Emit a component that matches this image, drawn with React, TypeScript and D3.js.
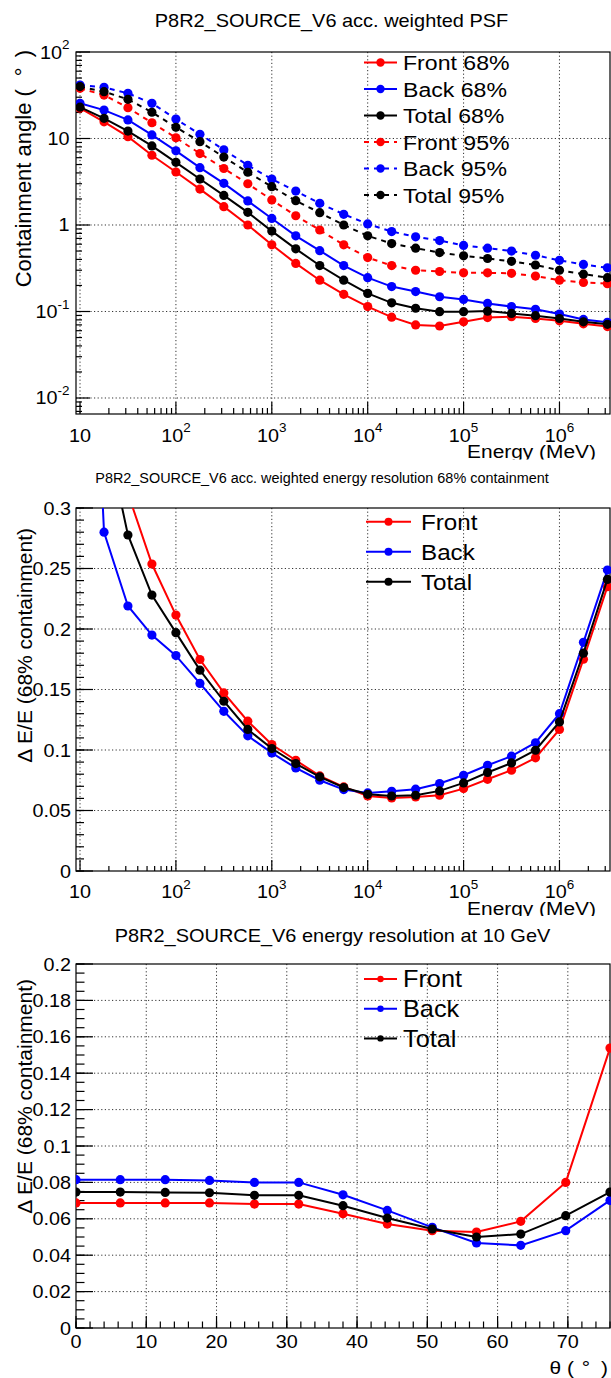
import React from 'react';
import * as d3 from 'd3';

const FONT = '"Liberation Sans", Arial, Helvetica, sans-serif';
const W = 611;
const H = 1378;

// Energies (MeV) at which PSF and energy resolution are evaluated
const ENERGY_MEV = [
  10, 17.8, 31.6, 56.2, 100, 178, 316, 562, 1000, 1778, 3162, 5623, 10000, 17783, 31623,
  56234, 100000, 177828, 316228, 562341, 1000000, 1778279, 3162278,
];

// PSF containment angles (deg)
const PSF_FRONT_68 = [22.4, 15.6, 10.5, 6.4, 4.1, 2.6, 1.63, 1.0, 0.59, 0.36, 0.23, 0.158, 0.114, 0.086, 0.07, 0.068, 0.076, 0.085, 0.087, 0.083, 0.078, 0.072, 0.067];
const PSF_BACK_68 = [25.5, 21.3, 16.4, 11.0, 7.2, 4.6, 3.03, 1.9, 1.19, 0.75, 0.505, 0.34, 0.246, 0.194, 0.17, 0.148, 0.138, 0.124, 0.114, 0.106, 0.0935, 0.081, 0.075];
const PSF_TOTAL_68 = [23, 17.1, 12.2, 8.2, 5.3, 3.4, 2.2, 1.4, 0.85, 0.53, 0.34, 0.23, 0.162, 0.126, 0.109, 0.0995, 0.0995, 0.101, 0.095, 0.0895, 0.083, 0.076, 0.071];
const PSF_FRONT_95 = [38, 31.8, 22.7, 15.2, 10.2, 6.7, 4.5, 3.0, 1.95, 1.28, 0.875, 0.59, 0.42, 0.34, 0.3, 0.29, 0.28, 0.28, 0.276, 0.257, 0.23, 0.217, 0.21];
const PSF_BACK_95 = [41.5, 39, 33.3, 25.5, 16.8, 11.2, 7.4, 4.9, 3.4, 2.47, 1.78, 1.33, 1.03, 0.84, 0.73, 0.66, 0.58, 0.54, 0.5, 0.447, 0.39, 0.35, 0.32];
const PSF_TOTAL_95 = [39.8, 34.8, 28.4, 20.1, 13.5, 9.2, 6.1, 4.07, 2.77, 1.91, 1.39, 1.0, 0.75, 0.61, 0.54, 0.48, 0.44, 0.41, 0.38, 0.345, 0.3, 0.27, 0.246];

// Energy resolution, 68% containment, versus energy
const EDISP_FRONT = [0.5, 0.4, 0.312, 0.2537, 0.2115, 0.1748, 0.1472, 0.1238, 0.1045, 0.0915, 0.0786, 0.0695, 0.062, 0.0604, 0.0612, 0.0626, 0.0681, 0.0758, 0.0833, 0.0935, 0.117, 0.175, 0.235];
const EDISP_BACK = [0.7, 0.28, 0.219, 0.195, 0.178, 0.155, 0.132, 0.1117, 0.0976, 0.0852, 0.075, 0.0673, 0.0645, 0.0659, 0.0676, 0.0723, 0.0791, 0.0874, 0.0949, 0.106, 0.13, 0.189, 0.2487];
const EDISP_TOTAL = [0.5, 0.37, 0.2777, 0.228, 0.197, 0.166, 0.1403, 0.117, 0.1012, 0.0888, 0.0778, 0.069, 0.0634, 0.062, 0.0626, 0.0662, 0.0728, 0.0814, 0.0893, 0.0998, 0.1232, 0.18, 0.241];

// Energy resolution at 10 GeV versus incidence angle
const THETA_DEG = [0, 6.3, 12.7, 19.0, 25.4, 31.7, 38.0, 44.3, 50.7, 57.0, 63.3, 69.7, 76.0];
const THETA_FRONT = [0.0687, 0.0687, 0.0687, 0.0687, 0.0681, 0.0681, 0.0628, 0.0571, 0.0535, 0.0527, 0.0586, 0.08, 0.1538];
const THETA_BACK = [0.0815, 0.0815, 0.0815, 0.0811, 0.08, 0.08, 0.0732, 0.0646, 0.0553, 0.0467, 0.0454, 0.0535, 0.0701];
const THETA_TOTAL = [0.0747, 0.0747, 0.0745, 0.0743, 0.0729, 0.0729, 0.0672, 0.0604, 0.0544, 0.05, 0.0516, 0.0617, 0.0747];

const X_DECADES = [10, 100, 1000, 10000, 100000, 1000000];
const PSF_Y_DECADES = [0.01, 0.1, 1, 10, 100];
const EDISP_Y_TICKS = [0, 0.05, 0.1, 0.15, 0.2, 0.25, 0.3];
const EDISP_Y_LABELS = ['0', '0.05', '0.1', '0.15', '0.2', '0.25', '0.3'];
const THETA_X_TICKS = [0, 10, 20, 30, 40, 50, 60, 70];
const THETA_Y_TICKS = [0, 0.02, 0.04, 0.06, 0.08, 0.1, 0.12, 0.14, 0.16, 0.18, 0.2];
const THETA_Y_LABELS = ['0', '0.02', '0.04', '0.06', '0.08', '0.1', '0.12', '0.14', '0.16', '0.18', '0.2'];

const RED = '#ff0000';
const BLUE = '#0000ff';
const BLACK = '#000000';

type Frame = { left: number; right: number; top: number; bottom: number };

const PSF_FRAME: Frame = { left: 76, right: 610, top: 52, bottom: 414 };
const EDISP_FRAME: Frame = { left: 76, right: 610, top: 508, bottom: 871 };
const THETA_FRAME: Frame = { left: 76, right: 610, top: 964, bottom: 1328 };

const SX = 1.1; // horizontal stretch of labels
const SX_TITLE = 1.05;

function logMinorTicks(lo: number, hi: number): number[] {
  const out: number[] = [];
  for (let k = -4; k <= 7; k++) {
    for (let m = 2; m <= 9; m++) {
      const v = m * Math.pow(10, k);
      if (v > lo && v < hi) out.push(v);
    }
  }
  return out;
}

function linMinorTicks(lo: number, hi: number, step: number): number[] {
  const out: number[] = [];
  const n = Math.round((hi - lo) / step);
  for (let i = 0; i <= n; i++) out.push(lo + i * step);
  return out;
}

function Txt(props: {
  x: number; y: number; size: number; anchor?: 'start' | 'middle' | 'end';
  sx?: number; children: React.ReactNode;
}) {
  const { x, y, size, anchor = 'start', sx = SX, children } = props;
  return (
    <text
      transform={`translate(${x},${y}) scale(${sx},1)`}
      fontSize={size}
      fontFamily={FONT}
      textAnchor={anchor}
      fill="#000"
    >
      {children}
    </text>
  );
}

function powLabel(v: number, size: number): React.ReactNode {
  const e = Math.round(Math.log10(v));
  if (e === 0) return '1';
  if (e === 1) return '10';
  return (
    <>
      10
      <tspan fontSize={size * 0.68} dy={-size * 0.52}>{String(e)}</tspan>
    </>
  );
}

type Series = {
  xs: number[];
  ys: number[];
  color: string;
  dashed?: boolean;
};

function Plot(props: {
  id: string;
  frame: Frame;
  x: (v: number) => number;
  y: (v: number) => number;
  xMajor: number[];
  xMinor: number[];
  yMajor: number[];
  yMinor: number[];
  xGrid: number[];
  yGrid: number[];
  xTickLen: [number, number];
  yTickLen: [number, number];
  series: Series[];
}) {
  const { id, frame, x, y, xMajor, xMinor, yMajor, yMinor, xGrid, yGrid, xTickLen, yTickLen, series } = props;
  const line = d3.line<[number, number]>().x((d) => d[0]).y((d) => d[1]);
  return (
    <g>
      <defs>
        <clipPath id={id}>
          <rect x={frame.left} y={frame.top} width={W - frame.left} height={frame.bottom - frame.top} />
        </clipPath>
      </defs>
      {/* grid */}
      <g stroke="#333" strokeWidth={1} strokeDasharray="1.2 2.4">
        {xGrid.map((v, i) => (
          <line key={`gx${i}`} x1={x(v)} x2={x(v)} y1={frame.top} y2={frame.bottom} />
        ))}
        {yGrid.map((v, i) => (
          <line key={`gy${i}`} x1={frame.left} x2={frame.right} y1={y(v)} y2={y(v)} />
        ))}
      </g>
      {/* ticks */}
      <g stroke="#000" strokeWidth={1.2}>
        {xMajor.map((v, i) => (
          <line key={`xM${i}`} x1={x(v)} x2={x(v)} y1={frame.bottom} y2={frame.bottom - xTickLen[0]} />
        ))}
        {xMinor.map((v, i) => (
          <line key={`xm${i}`} x1={x(v)} x2={x(v)} y1={frame.bottom} y2={frame.bottom - xTickLen[1]} />
        ))}
        {yMajor.map((v, i) => (
          <line key={`yM${i}`} x1={frame.left} x2={frame.left + yTickLen[0]} y1={y(v)} y2={y(v)} />
        ))}
        {yMinor.map((v, i) => (
          <line key={`ym${i}`} x1={frame.left} x2={frame.left + yTickLen[1]} y1={y(v)} y2={y(v)} />
        ))}
      </g>
      {/* frame */}
      <rect
        x={frame.left}
        y={frame.top}
        width={frame.right - frame.left}
        height={frame.bottom - frame.top}
        fill="none"
        stroke="#000"
        strokeWidth={1.2}
      />
      {/* data */}
      <g clipPath={`url(#${id})`}>
        {series.map((s, si) => {
          const pts: [number, number][] = s.xs.map((xv, i) => [x(xv), y(s.ys[i])]);
          return (
            <g key={si}>
              <path
                d={line(pts) || ''}
                fill="none"
                stroke={s.color}
                strokeWidth={2}
                strokeDasharray={s.dashed ? '5 5' : undefined}
              />
              {pts.map((p, i) => (
                <circle key={i} cx={p[0]} cy={p[1]} r={4.6} fill={s.color} />
              ))}
            </g>
          );
        })}
      </g>
    </g>
  );
}

function LegendRow(props: {
  x1: number; x2: number; tx: number; cy: number; color: string; dashed?: boolean;
  label: string; size: number; r: number;
}) {
  const { x1, x2, tx, cy, color, dashed, label, size, r } = props;
  return (
    <g>
      <line x1={x1} x2={x2} y1={cy} y2={cy} stroke={color} strokeWidth={2} strokeDasharray={dashed ? '5 5' : undefined} />
      <circle cx={(x1 + x2) / 2} cy={cy} r={r} fill={color} />
      <Txt x={tx} y={cy + size * 0.36} size={size}>{label}</Txt>
    </g>
  );
}

export default function App() {
  // ---------- PSF panel ----------
  const xE1 = d3.scaleLog().domain([Math.pow(10, 0.958), Math.pow(10, 6.527)]).range([PSF_FRAME.left, PSF_FRAME.right]);
  const yPsf = d3.scaleLog().domain([Math.pow(10, -2.185), 100]).range([PSF_FRAME.bottom, PSF_FRAME.top]);
  const xDom = xE1.domain();
  const xMinor = logMinorTicks(xDom[0], xDom[1]);
  const yPsfDom = yPsf.domain();
  const yPsfMinor = logMinorTicks(yPsfDom[0], yPsfDom[1]);

  // ---------- energy resolution panel ----------
  const xE2 = d3.scaleLog().domain(xDom).range([EDISP_FRAME.left, EDISP_FRAME.right]);
  const yEd = d3.scaleLinear().domain([0, 0.3]).range([EDISP_FRAME.bottom, EDISP_FRAME.top]);

  // ---------- theta panel ----------
  const xTh = d3.scaleLinear().domain([0, 76]).range([THETA_FRAME.left, THETA_FRAME.right]);
  const yTh = d3.scaleLinear().domain([0, 0.2]).range([THETA_FRAME.bottom, THETA_FRAME.top]);

  const tickFs = 18;

  return (
    <svg
      width={W}
      height={H}
      viewBox={`0 0 ${W} ${H}`}
      style={{ position: 'absolute', left: 0, top: 0, background: '#fff' }}
    >
      <defs>
        <clipPath id="clip-top-canvas">
          <rect x={0} y={0} width={W} height={459.5} />
        </clipPath>
        <clipPath id="clip-mid-canvas">
          <rect x={0} y={459.5} width={W} height={456.5} />
        </clipPath>
      </defs>
      <rect x={0} y={0} width={W} height={H} fill="#fff" />

      {/* ================= PSF ================= */}
      <Txt x={331.5} y={26.5} size={19} anchor="middle" sx={SX_TITLE}>
        P8R2_SOURCE_V6 acc. weighted PSF
      </Txt>
      <Plot
        id="clip-psf"
        frame={PSF_FRAME}
        x={xE1}
        y={yPsf}
        xMajor={X_DECADES}
        xMinor={xMinor}
        yMajor={PSF_Y_DECADES}
        yMinor={yPsfMinor}
        xGrid={X_DECADES}
        yGrid={PSF_Y_DECADES.filter((v) => v < 100)}
        xTickLen={[12, 6]}
        yTickLen={[14, 6]}
        series={[
          { xs: ENERGY_MEV, ys: PSF_FRONT_68, color: RED },
          { xs: ENERGY_MEV, ys: PSF_BACK_68, color: BLUE },
          { xs: ENERGY_MEV, ys: PSF_TOTAL_68, color: BLACK },
          { xs: ENERGY_MEV, ys: PSF_FRONT_95, color: RED, dashed: true },
          { xs: ENERGY_MEV, ys: PSF_BACK_95, color: BLUE, dashed: true },
          { xs: ENERGY_MEV, ys: PSF_TOTAL_95, color: BLACK, dashed: true },
        ]}
      />
      {PSF_Y_DECADES.map((v, i) => (
        <Txt key={`py${i}`} x={69.5} y={yPsf(v) + 6.5} size={tickFs} anchor="end">
          {powLabel(v, tickFs)}
        </Txt>
      ))}
      {X_DECADES.map((v, i) => (
        <Txt key={`px${i}`} x={xE1(v)} y={441.7} size={tickFs} anchor="middle">
          {powLabel(v, tickFs)}
        </Txt>
      ))}
      <g clipPath="url(#clip-top-canvas)">
        <Txt x={596} y={458} size={19} anchor="end">
          Energy (MeV)
        </Txt>
      </g>
      <text transform="translate(30.5,50) rotate(-90)" fontSize={22} fontFamily={FONT} textAnchor="end">
        Containment angle (<tspan dx={13}>°</tspan><tspan dx={10}>)</tspan>
      </text>
      {[
        { label: 'Front 68%', color: RED, dashed: false },
        { label: 'Back 68%', color: BLUE, dashed: false },
        { label: 'Total 68%', color: BLACK, dashed: false },
        { label: 'Front 95%', color: RED, dashed: true },
        { label: 'Back 95%', color: BLUE, dashed: true },
        { label: 'Total 95%', color: BLACK, dashed: true },
      ].map((e, i) => (
        <LegendRow
          key={`pl${i}`}
          x1={364}
          x2={397}
          tx={403}
          cy={62.5 + i * 26.5}
          color={e.color}
          dashed={e.dashed}
          label={e.label}
          size={21}
          r={4.2}
        />
      ))}

      {/* ================= energy resolution vs energy ================= */}
      <Txt x={322} y={483} size={14} anchor="middle" sx={1.03}>
        P8R2_SOURCE_V6 acc. weighted energy resolution 68% containment
      </Txt>
      <Plot
        id="clip-edisp"
        frame={EDISP_FRAME}
        x={xE2}
        y={yEd}
        xMajor={X_DECADES}
        xMinor={xMinor}
        yMajor={EDISP_Y_TICKS}
        yMinor={linMinorTicks(0, 0.3, 0.01)}
        xGrid={X_DECADES}
        yGrid={EDISP_Y_TICKS.filter((v) => v > 0 && v < 0.3)}
        xTickLen={[11, 5]}
        yTickLen={[17, 8]}
        series={[
          { xs: ENERGY_MEV, ys: EDISP_FRONT, color: RED },
          { xs: ENERGY_MEV, ys: EDISP_BACK, color: BLUE },
          { xs: ENERGY_MEV, ys: EDISP_TOTAL, color: BLACK },
        ]}
      />
      {EDISP_Y_TICKS.map((v, i) => (
        <Txt key={`ey${i}`} x={71} y={yEd(v) + 6.5} size={tickFs} anchor="end">
          {EDISP_Y_LABELS[i]}
        </Txt>
      ))}
      {X_DECADES.map((v, i) => (
        <Txt key={`ex${i}`} x={xE2(v)} y={898.3} size={tickFs} anchor="middle">
          {powLabel(v, tickFs)}
        </Txt>
      ))}
      <g clipPath="url(#clip-mid-canvas)">
        <Txt x={596} y={914.5} size={19} anchor="end">
          Energy (MeV)
        </Txt>
      </g>
      <text transform="translate(31.5,528) rotate(-90)" fontSize={21} fontFamily={FONT} textAnchor="end">
        Δ E/E (68% containment)
      </text>
      {[
        { label: 'Front', color: RED },
        { label: 'Back', color: BLUE },
        { label: 'Total', color: BLACK },
      ].map((e, i) => (
        <LegendRow
          key={`el${i}`}
          x1={366}
          x2={411}
          tx={421}
          cy={521.7 + i * 30}
          color={e.color}
          label={e.label}
          size={22}
          r={4}
        />
      ))}

      {/* ================= energy resolution vs theta ================= */}
      <Txt x={332.5} y={941.7} size={19} anchor="middle" sx={SX_TITLE}>
        P8R2_SOURCE_V6 energy resolution at 10 GeV
      </Txt>
      <Plot
        id="clip-theta"
        frame={THETA_FRAME}
        x={xTh}
        y={yTh}
        xMajor={THETA_X_TICKS}
        xMinor={linMinorTicks(0, 76, 2)}
        yMajor={THETA_Y_TICKS}
        yMinor={linMinorTicks(0, 0.2, 0.005)}
        xGrid={THETA_X_TICKS.filter((v) => v > 0)}
        yGrid={THETA_Y_TICKS.filter((v) => v > 0 && v < 0.2)}
        xTickLen={[12, 6.5]}
        yTickLen={[17, 8.5]}
        series={[
          { xs: THETA_DEG, ys: THETA_FRONT, color: RED },
          { xs: THETA_DEG, ys: THETA_BACK, color: BLUE },
          { xs: THETA_DEG, ys: THETA_TOTAL, color: BLACK },
        ]}
      />
      {THETA_Y_TICKS.map((v, i) => (
        <Txt key={`ty${i}`} x={71} y={yTh(v) + 6.5} size={tickFs} anchor="end">
          {THETA_Y_LABELS[i]}
        </Txt>
      ))}
      {THETA_X_TICKS.map((v, i) => (
        <Txt key={`tx${i}`} x={xTh(v)} y={1348.3} size={tickFs} anchor="middle">
          {String(v)}
        </Txt>
      ))}
      <Txt x={608} y={1374} size={19} anchor="end">
        θ (<tspan dx={7}>°</tspan><tspan dx={10}>)</tspan>
      </Txt>
      <text transform="translate(31.5,979) rotate(-90)" fontSize={21} fontFamily={FONT} textAnchor="end">
        Δ E/E (68% containment)
      </text>
      {[
        { label: 'Front', color: RED },
        { label: 'Back', color: BLUE },
        { label: 'Total', color: BLACK },
      ].map((e, i) => (
        <LegendRow
          key={`tl${i}`}
          x1={364}
          x2={397}
          tx={403}
          cy={979 + i * 29.7}
          color={e.color}
          label={e.label}
          size={23}
          r={3.2}
        />
      ))}
    </svg>
  );
}
